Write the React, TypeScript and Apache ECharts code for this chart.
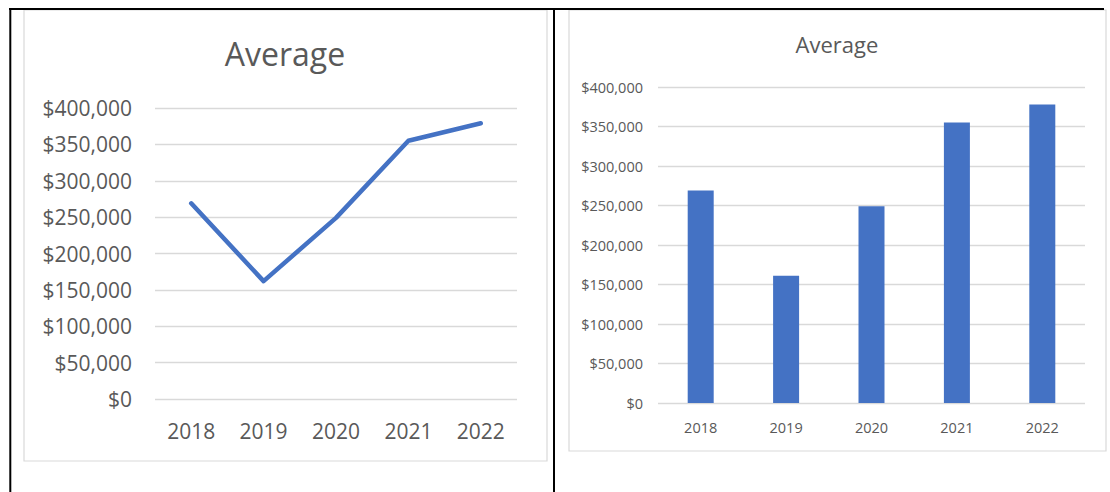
import React, { useEffect, useRef } from "react";
import * as echarts from "echarts";

const years = ["2018", "2019", "2020", "2021", "2022"];
const averageLine = [269000, 162000, 249000, 355000, 379000];
const averageBar = [269000, 161000, 249000, 355000, 378000];
const titleText = "Average";

const BLUE = "#4472C4";
const TEXT = "#595959";
const GRID = "#d9d9d9";
const FONT = "'Open Sans', sans-serif";

const money = (v: number) => "$" + v.toLocaleString("en-US");

export default function App() {
  const ref = useRef<HTMLDivElement>(null);
  useEffect(() => {
    if (!ref.current) return;
    const chart = echarts.init(ref.current, null, { renderer: "svg" });
    const yAxisBase = (size: number, margin: number) => ({
      type: "value",
      min: 0,
      max: 400000,
      interval: 50000,
      axisLine: { show: false },
      axisTick: { show: false },
      axisLabel: { color: TEXT, fontFamily: FONT, fontSize: size, margin, formatter: money },
      splitLine: { show: true, lineStyle: { color: GRID, width: 1.3 } },
    });
    const xAxisBase = (size: number, margin: number) => ({
      type: "category",
      data: years,
      boundaryGap: true,
      axisLine: { show: false },
      axisTick: { show: false },
      axisLabel: { color: TEXT, fontFamily: FONT, fontSize: size, margin },
    });
    chart.setOption({
      animation: false,
      backgroundColor: "#ffffff",
      textStyle: { fontFamily: FONT },
      title: [
        {
          text: titleText,
          left: 285,
          top: 37,
          textAlign: "center",
          padding: 0,
          textStyle: { color: TEXT, fontFamily: FONT, fontSize: 32, fontWeight: "normal" },
        },
        {
          text: titleText,
          left: 837,
          top: 33,
          textAlign: "center",
          padding: 0,
          textStyle: { color: TEXT, fontFamily: FONT, fontSize: 22, fontWeight: "normal" },
        },
      ],
      grid: [
        { left: 155, top: 108, width: 362, height: 291, containLabel: false },
        { left: 658, top: 87, width: 427, height: 316, containLabel: false },
      ],
      xAxis: [
        { ...xAxisBase(21, 21), gridIndex: 0 },
        { ...xAxisBase(14.5, 17), gridIndex: 1 },
      ],
      yAxis: [
        { ...yAxisBase(21, 23), gridIndex: 0 },
        { ...yAxisBase(14.5, 15), gridIndex: 1 },
      ],
      series: [
        {
          type: "line",
          xAxisIndex: 0,
          yAxisIndex: 0,
          data: averageLine,
          showSymbol: false,
          symbol: "none",
          lineStyle: { color: BLUE, width: 4.5, cap: "round", join: "round" },
          z: 3,
        },
        {
          type: "bar",
          xAxisIndex: 1,
          yAxisIndex: 1,
          data: averageBar,
          barWidth: 26,
          itemStyle: { color: BLUE },
        },
      ],
      graphic: [
        {
          type: "rect",
          z: -10,
          silent: true,
          shape: { x: 24, y: 10, width: 523, height: 451 },
          style: { fill: "#ffffff", stroke: GRID, lineWidth: 1.2 },
        },
        {
          type: "rect",
          z: -10,
          silent: true,
          shape: { x: 569, y: 10, width: 537, height: 441 },
          style: { fill: "#ffffff", stroke: GRID, lineWidth: 1.2 },
        },
        {
          type: "line",
          z: 10,
          silent: true,
          shape: { x1: 9, y1: 9, x2: 1104, y2: 9 },
          style: { stroke: "#000000", lineWidth: 2 },
        },
        {
          type: "line",
          z: 10,
          silent: true,
          shape: { x1: 10.3, y1: 8, x2: 10.3, y2: 492 },
          style: { stroke: "#000000", lineWidth: 2 },
        },
        {
          type: "line",
          z: 10,
          silent: true,
          shape: { x1: 554, y1: 8, x2: 554, y2: 492 },
          style: { stroke: "#000000", lineWidth: 2 },
        },
      ],
    });
    return () => chart.dispose();
  }, []);
  return (
    <div
      ref={ref}
      style={{ position: "fixed", left: 0, top: 0, width: 1110, height: 492, background: "#ffffff" }}
    />
  );
}
